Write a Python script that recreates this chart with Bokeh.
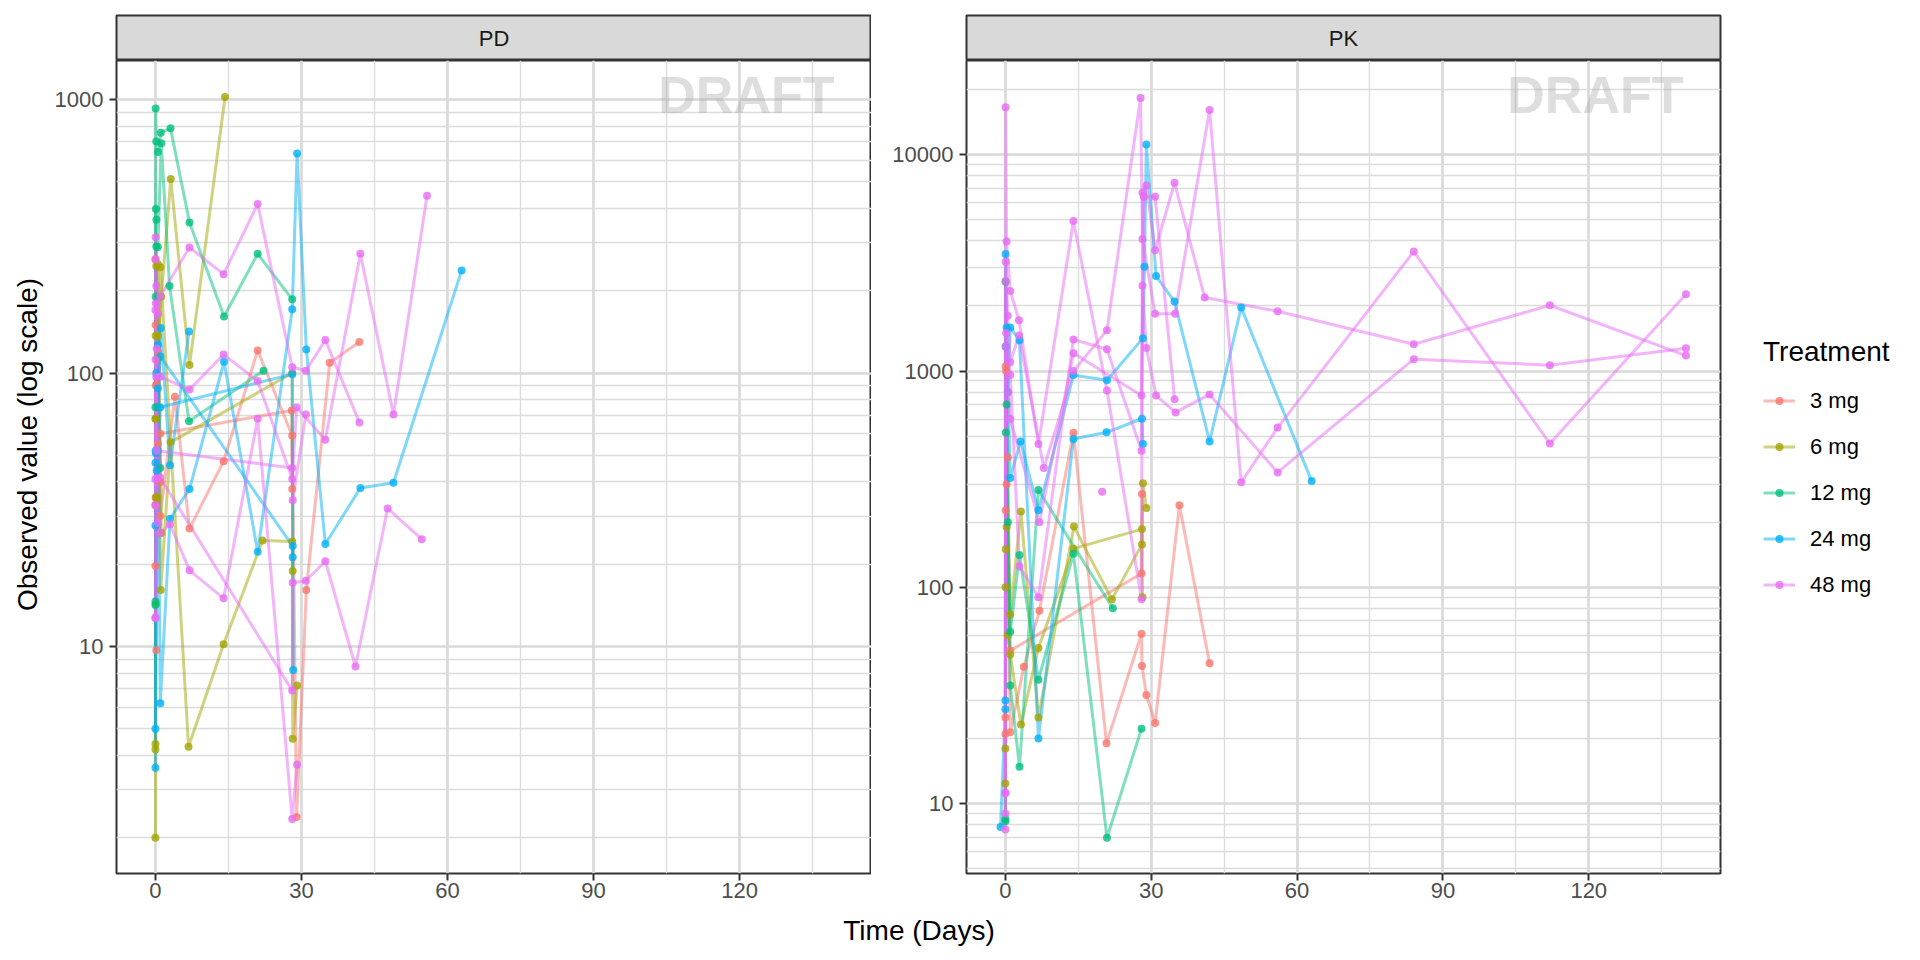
import math
from bokeh.plotting import figure
from bokeh.models import (Range1d, FixedTicker, PrintfTickFormatter, Label,
                          Legend, LegendItem, ColumnDataSource)
from bokeh.layouts import row, column
from bokeh.embed import file_html
from bokeh.resources import INLINE

# ---------------- data ----------------
treatments = ["3 mg", "6 mg", "12 mg", "24 mg", "48 mg"]
colors = ["#F8766D", "#A3A500", "#00BF7D", "#00B0F6", "#E76BF3"]
panels = ["PD", "PK"]
x_ticks = [0, 30, 60, 90, 120]
x_minor = [15, 45, 75, 105, 135]
pd_y_ticks = [10, 100, 1000]
pk_y_ticks = [10, 100, 1000, 10000]

# PD panel: one inner list per subject (time in days, observed value)
pd_3mg_t = [[0, 0.04, 0.25, 0.5, 1, 4, 7, 14, 21, 28.1, 29, 31, 35.8, 41.9],
            [0, 0.04, 0.17, 0.5, 1, 28, 28.1],
            [0, 0.08, 0.5, 1]]
pd_3mg_v = [[261, 150, 91, 45, 30, 82, 27, 47.6, 121, 59, 2.38, 16.1, 109, 130],
            [19.7, 35, 9.7, 55, 60, 73, 37.7],
            [33, 90, 120, 40]]

pd_6mg_t = [[0, 0.04, 0.17, 0.5, 1.2, 3.15, 7, 14.3],
            [0, 0.08, 0.25, 1.0, 6.8, 14, 22, 28.1, 28.2, 29.1],
            [0, 0.04, 0.5, 1.1, 3.1, 28.1, 28.2],
            [0, 0.17, 0.5, 1.2]]
pd_6mg_v = [[68, 137, 246, 113, 190, 512, 107, 1022],
            [2.0, 14.3, 35, 244, 4.3, 10.2, 24.4, 24.2, 4.6, 7.2],
            [4.2, 68, 137, 16.1, 55.8, 100, 18.9],
            [4.4, 35.2, 250, 26]]

pd_12mg_t = [[0, 0.04, 0.17, 0.5, 1.1, 3.1, 7, 14.1, 21, 28.1],
             [0, 0.1, 0.2, 0.5, 1.2, 2.9, 6.9, 22.2],
             [0, 0.04, 0.17, 0.5, 1]]
pd_12mg_v = [[75, 927, 703, 643, 757, 785, 355, 161, 273, 186],
             [14.6, 398, 364, 289, 693, 208, 66.6, 102],
             [14.2, 190, 290, 75, 45]]

pd_24mg_t = [[0, 0.04, 0.5, 1, 3, 7, 14.1, 21, 28.1, 29.1, 31, 34.9, 42.1, 48.9, 62.9],
             [0, 0.08, 0.25, 1.1, 3, 6.9],
             [0, 0.17, 0.5, 1, 28.1, 28.2],
             [0, 0.5, 1, 28.2, 28.3]]
pd_24mg_v = [[3.6, 52, 127, 6.2, 29.3, 37.7, 110, 22.2, 171, 635, 122, 23.7, 38, 39.7, 237],
             [27.7, 51, 44, 146, 46, 142],
             [5.0, 100, 52, 75, 99, 21.2],
             [47, 88, 115, 23.3, 8.2]]

pd_48mg_t = [[0, 0.04, 0.17, 0.5, 1, 7, 14, 21, 28.1, 30.9, 34.9, 41.9],
             [0, 0.08, 0.25, 1, 7, 14, 21, 28.1, 29, 34.9, 42.1, 48.9, 55.8],
             [0, 0.04, 0.5, 1, 3, 7, 14, 21, 28.1, 29.1],
             [0, 0.17, 1, 28.1, 28.2, 30.9, 34.9, 41.1, 47.7, 54.7],
             [0, 0.04, 0.25, 28.1, 28.2, 30.9]]
pd_48mg_v = [[41, 314, 208, 164, 191, 288, 230, 415, 105, 102, 132, 66],
             [12.7, 180, 123, 97, 87, 117, 93.5, 41, 75, 57, 273, 70.5, 445],
             [32.8, 112, 28.3, 26, 28, 19, 15, 68, 2.34, 3.7],
             [12.8, 97, 41.4, 6.9, 17.1, 17.4, 20.5, 8.45, 32, 24.7],
             [170, 260, 52, 45, 34.3, 70.5]]

# PK panel
pk_3mg_t = [[0, 0.04, 0.25, 1, 3.8, 7, 14, 20.8, 28, 28.1, 29, 30.8, 35.8, 42],
            [0, 0.04, 0.17, 0.5, 1, 28, 28.1]]
pk_3mg_v = [[21, 1050, 300, 21.4, 42.9, 78, 519, 19, 61, 43.3, 31.8, 23.6, 240, 44.6],
            [25, 227, 1000, 400, 51, 116, 270]]

pk_6mg_t = [[0, 0.04, 0.25, 1, 3.2, 6.8, 14.1, 21.9, 28.1, 28.3, 29],
            [0, 0.08, 0.5, 1, 3.2, 6.8, 14, 28.1, 28.2]]
pk_6mg_v = [[12.4, 100, 190, 75, 224, 25, 191, 88, 158, 303, 233],
            [18, 150, 60, 48.9, 23.2, 52.5, 151, 186, 90]]

pk_12mg_t = [[0, 0.04, 0.25, 1, 2.9, 6.8, 22.1],
             [0, 0.08, 0.5, 1, 2.9, 6.8, 14, 20.9, 28]]
pk_12mg_v = [[8.3, 2590, 700, 35.2, 14.8, 282, 80],
             [8.5, 520, 200, 62.4, 141, 37.4, 143, 6.95, 22.2]]

pk_24mg_t = [[-1, 0, 0.04, 0.25, 1, 3.1, 6.8, 14, 20.9, 28.3, 28.6, 29, 31, 34.8, 42, 48.5, 63],
             [0, 0.04, 0.5, 1, 2.9, 6.8, 14, 20.8, 28.1, 28.3]]
pk_24mg_v = [[7.8, 27.3, 3480, 1590, 320, 473, 227, 958, 907, 1420, 3040, 11150, 2750, 2095, 473, 1970, 310],
             [30, 1300, 800, 1590, 1387, 20, 485, 521, 602, 460]]

pk_48mg_t = [[0, 0.04, 0.25, 1, 2.8, 6.8, 14, 20.9, 28, 28.2, 29, 30.8, 34.8, 41, 56, 84, 112, 140],
             [0, 0.08, 0.5, 1, 2.8, 7.9, 14, 20.9, 27.8, 28.2, 30.8, 34.9, 42, 48.5, 56, 84, 112, 140],
             [0, 0.04, 0.17, 1, 2.9, 6.8, 14, 20.9, 28, 28.2, 29, 31, 35, 42, 56, 84, 112, 140],
             [0, 0.08, 0.5, 1, 7, 14, 28, 28.5, 30.8, 34.8],
             [19.9]]
pk_48mg_v = [[11.2, 16600, 3970, 2345, 1720, 460, 4940, 813, 88, 6680, 7220, 3620, 7420, 2190, 1890, 1330, 2015, 1180],
             [7.6, 3200, 1800, 1100, 1460, 356, 1000, 1545, 18300, 4080, 1840, 1840, 16100, 306, 548, 3570, 462, 2265],
             [11.2, 2610, 1500, 960, 125, 90, 1400, 1262, 428, 2480, 1277, 771, 644, 780, 340, 1135, 1065, 1275],
             [9, 1300, 800, 600, 200, 1210, 771, 6400, 6400, 741],
             [277]]

pd_times = [pd_3mg_t, pd_6mg_t, pd_12mg_t, pd_24mg_t, pd_48mg_t]
pd_values = [pd_3mg_v, pd_6mg_v, pd_12mg_v, pd_24mg_v, pd_48mg_v]
pk_times = [pk_3mg_t, pk_6mg_t, pk_12mg_t, pk_24mg_t, pk_48mg_t]
pk_values = [pk_3mg_v, pk_6mg_v, pk_12mg_v, pk_24mg_v, pk_48mg_v]

# ---------------- layout constants ----------------
FONT = "Liberation Sans"
YT_W = 46                 # column holding the y-axis title
FW_A, FW_B = 755, 754
FH = 813
STRIP_H = 45
TOP = 15
LEFT_A, LEFT_B, RIGHT_B = 70, 95, 190
BOTTOM = 35
XT_H = 45
TOTAL_W = YT_W + LEFT_A + FW_A + LEFT_B + FW_B + RIGHT_B
UPPER_H = TOP + STRIP_H + FH + BOTTOM

x_range = Range1d(-8.0, 147.1)


def minors(lo_exp, hi_exp):
    return [m * 10 ** k for k in range(lo_exp, hi_exp + 1) for m in range(2, 10)]


def blank(w, h):
    f = figure(frame_width=w, frame_height=h, min_border=0,
               x_range=Range1d(0, 1), y_range=Range1d(0, 1),
               x_axis_location=None, y_axis_location=None, title=None,
               toolbar_location=None, output_backend="svg")
    f.grid.visible = False
    f.outline_line_color = None
    f.background_fill_color = "white"
    f.border_fill_color = "white"
    return f


def make_strip(label, fw, left, right):
    s = figure(frame_width=fw, frame_height=STRIP_H, min_border_left=left,
               min_border_right=right, min_border_top=TOP, min_border_bottom=0,
               x_range=Range1d(0, 1), y_range=Range1d(0, 1),
               x_axis_location=None, y_axis_location=None, title=None,
               toolbar_location=None, output_backend="svg")
    s.grid.visible = False
    s.background_fill_color = "#D9D9D9"
    s.border_fill_color = "white"
    s.outline_line_color = "#333333"
    s.outline_line_width = 2
    s.add_layout(Label(x=fw / 2, y=STRIP_H / 2, x_units="screen", y_units="screen",
                       text=label, text_align="center", text_baseline="middle",
                       text_font=FONT, text_font_size="22px", text_color="#1A1A1A"))
    return s


def make_main(fw, left, right, ylo, yhi, yticks, yminor):
    p = figure(frame_width=fw, frame_height=FH, min_border_left=left,
               min_border_right=right, min_border_top=0, min_border_bottom=BOTTOM,
               x_range=x_range, y_range=Range1d(ylo, yhi), y_axis_type="log",
               title=None, toolbar_location=None, output_backend="svg")
    xt = FixedTicker(ticks=x_ticks, minor_ticks=x_minor)
    yt = FixedTicker(ticks=yticks, minor_ticks=yminor)
    p.xaxis.ticker = xt
    p.yaxis.ticker = yt
    p.xgrid.ticker = xt
    p.ygrid.ticker = yt
    p.xaxis.formatter = PrintfTickFormatter(format="%d")
    p.yaxis.formatter = PrintfTickFormatter(format="%d")
    for ax in (p.xaxis, p.yaxis):
        ax.axis_line_color = None
        ax.major_tick_line_color = "#333333"
        ax.major_tick_line_width = 2
        ax.major_tick_out = 7
        ax.major_tick_in = 0
        ax.minor_tick_line_color = None
        ax.major_label_text_font = FONT
        ax.major_label_text_font_size = "22px"
        ax.major_label_text_color = "#4D4D4D"
    p.xaxis.major_label_standoff = 2
    p.yaxis.major_label_standoff = 6
    for g in (p.xgrid, p.ygrid):
        g.grid_line_color = "#D9D9D9"
        g.grid_line_width = 2.6
        g.minor_grid_line_color = "#DCDCDC"
        g.minor_grid_line_width = 1.4
    p.outline_line_color = "#333333"
    p.outline_line_width = 2
    p.background_fill_color = "white"
    p.add_layout(Label(x=fw - 37, y=779, x_units="screen", y_units="screen",
                       text="DRAFT", text_align="right", text_baseline="alphabetic",
                       text_font=FONT, text_font_size="52px", text_font_style="bold",
                       text_color="#A0A0A0", text_alpha=0.35))
    return p


pa = make_main(FW_A, LEFT_A, 0, 10 ** 0.170, 10 ** 3.143, pd_y_ticks, minors(0, 2))
pb = make_main(FW_B, LEFT_B, RIGHT_B, 10 ** 0.677, 10 ** 4.436, pk_y_ticks, minors(0, 4))

# lines first, then points (as in the layered original)
line_r = {0: [], 1: []}
for pi_, (p, T, V) in enumerate([(pa, pd_times, pd_values), (pb, pk_times, pk_values)]):
    for i in range(len(treatments)):
        src = ColumnDataSource(dict(xs=T[i], ys=V[i]))
        r = p.multi_line("xs", "ys", source=src, line_color=colors[i],
                         line_alpha=0.5, line_width=3.0)
        line_r[pi_].append(r)

pt_r = {0: [], 1: []}
for pi_, (p, T, V) in enumerate([(pa, pd_times, pd_values), (pb, pk_times, pk_values)]):
    for i in range(len(treatments)):
        fx = [x for subj in T[i] for x in subj]
        fy = [y for subj in V[i] for y in subj]
        r = p.scatter(fx, fy, size=8, fill_color=colors[i], fill_alpha=0.8,
                      line_color=None)
        pt_r[pi_].append(r)

legend = Legend(items=[LegendItem(label=treatments[i], renderers=[line_r[1][i], pt_r[1][i]])
                       for i in range(len(treatments))],
                title="Treatment", location="center_left")
legend.title_text_font = FONT
legend.title_text_font_size = "28px"
legend.title_text_font_style = "normal"
legend.title_text_color = "black"
legend.title_standoff = 19
legend.label_text_font = FONT
legend.label_text_font_size = "22px"
legend.label_text_color = "black"
legend.glyph_width = 32
legend.glyph_height = 20
legend.label_height = 28
legend.spacing = 18
legend.label_standoff = 15
legend.padding = 6
legend.margin = 43
legend.border_line_color = None
legend.background_fill_alpha = 0
pb.add_layout(legend, "right")

# y-axis title column (centred on strip + panel, like the original)
ytf = blank(YT_W, UPPER_H)
ytf.add_layout(Label(x=27, y=UPPER_H - (TOP + STRIP_H + FH) / 2 - TOP / 2,
                     x_units="screen", y_units="screen",
                     text="Observed value (log scale)", angle=math.pi / 2,
                     text_align="center", text_baseline="middle",
                     text_font=FONT, text_font_size="28px", text_color="black"))

# shared x-axis title row, centred between the two panels
xtf = blank(TOTAL_W, XT_H)
xtf.add_layout(Label(x=YT_W + LEFT_A + FW_A + LEFT_B / 2, y=XT_H / 2 + 1,
                     x_units="screen", y_units="screen",
                     text="Time (Days)", text_align="center", text_baseline="middle",
                     text_font=FONT, text_font_size="28px", text_color="black"))

sa = make_strip(panels[0], FW_A, LEFT_A, 0)
sb = make_strip(panels[1], FW_B, LEFT_B, RIGHT_B)

layout = column(row(ytf, column(sa, pa), column(sb, pb)), xtf)
open("out.html", "w").write(file_html(layout, INLINE))
